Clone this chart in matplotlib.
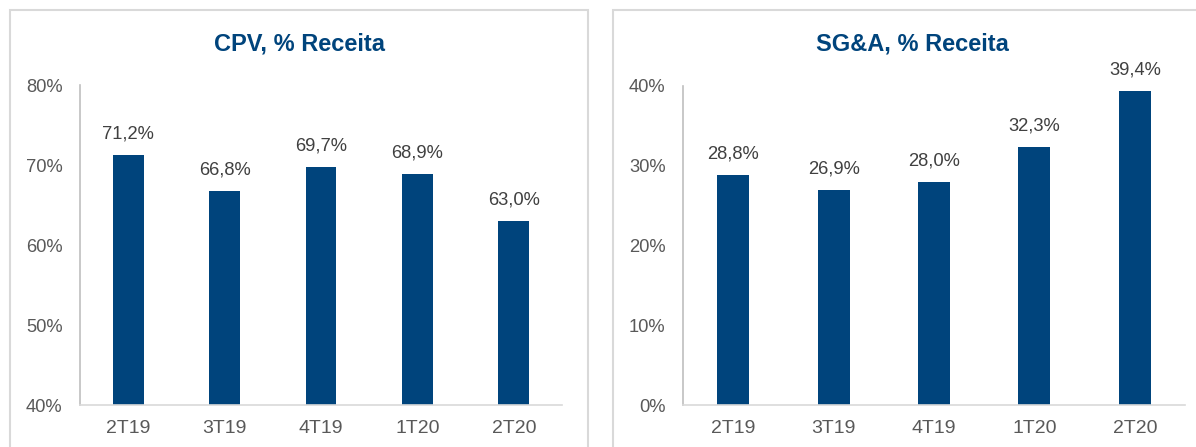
import numpy as np
import matplotlib.pyplot as plt
from matplotlib.patches import Rectangle

# dados
trimestres = ["2T19", "3T19", "4T19", "1T20", "2T20"]
cpv = [71.2, 66.8, 69.7, 68.9, 63.0]
sga = [28.8, 26.9, 28.0, 32.3, 39.4]

azul = "#00447C"
cinza_txt = "#595959"

plt.rcParams['font.family'] = ['Liberation Sans', 'DejaVu Sans']

fig = plt.figure(figsize=(11.96, 4.47), dpi=100)
W, H = 1196, 447

# molduras dos paineis
fig.patches.append(Rectangle((10 / W, -0.1), 578 / W, 1 - 10 / H + 0.1, transform=fig.transFigure,
                             fill=False, edgecolor="#D9D9D9", linewidth=1.5))
fig.patches.append(Rectangle((613 / W, -0.1), 600 / W, 1 - 10 / H + 0.1, transform=fig.transFigure,
                             fill=False, edgecolor="#D9D9D9", linewidth=1.5))


def painel(rect, valores, titulo, ylim, yticks, titulo_x):
    ax = fig.add_axes(rect)
    x = np.arange(len(trimestres))
    ax.bar(x, valores, width=0.32, color=azul, zorder=2)
    ax.set_xlim(-0.5, len(trimestres) - 0.5)
    ax.set_ylim(*ylim)
    ax.set_yticks(yticks)
    ax.set_yticklabels([f"{t}%" for t in yticks])
    ax.set_xticks(x)
    ax.set_xticklabels(trimestres)
    ax.tick_params(length=0, colors=cinza_txt)
    ax.tick_params(axis='y', pad=12.5, labelsize=13.2)
    ax.tick_params(axis='x', pad=11, labelsize=14)
    for s in ["top", "right"]:
        ax.spines[s].set_visible(False)
    ax.spines["left"].set_color("#BFBFBF")
    ax.spines["bottom"].set_color("#D9D9D9")
    ax.spines["left"].set_linewidth(1.2)
    ax.spines["bottom"].set_linewidth(1.2)
    for xi, v in zip(x, valores):
        ax.annotate(f"{v:.1f}".replace(".", ",") + "%", (xi, v), xytext=(0, 9),
                    textcoords="offset points", ha="center", va="bottom",
                    fontsize=13.2, color="#404040")
    fig.text(titulo_x, 1 - 44 / H, titulo, ha="center", va="center",
             fontsize=17, fontweight="bold", color=azul)
    return ax


painel([80 / W, 1 - 405 / H, 482 / W, 320 / H], cpv, "CPV, % Receita",
       (40, 80), [40, 50, 60, 70, 80], 299 / W)
painel([683 / W, 1 - 405 / H, 502 / W, 319 / H], sga, "SG&A, % Receita",
       (0, 40), [0, 10, 20, 30, 40], 912 / W)

plt.savefig("out.png", dpi=100)
